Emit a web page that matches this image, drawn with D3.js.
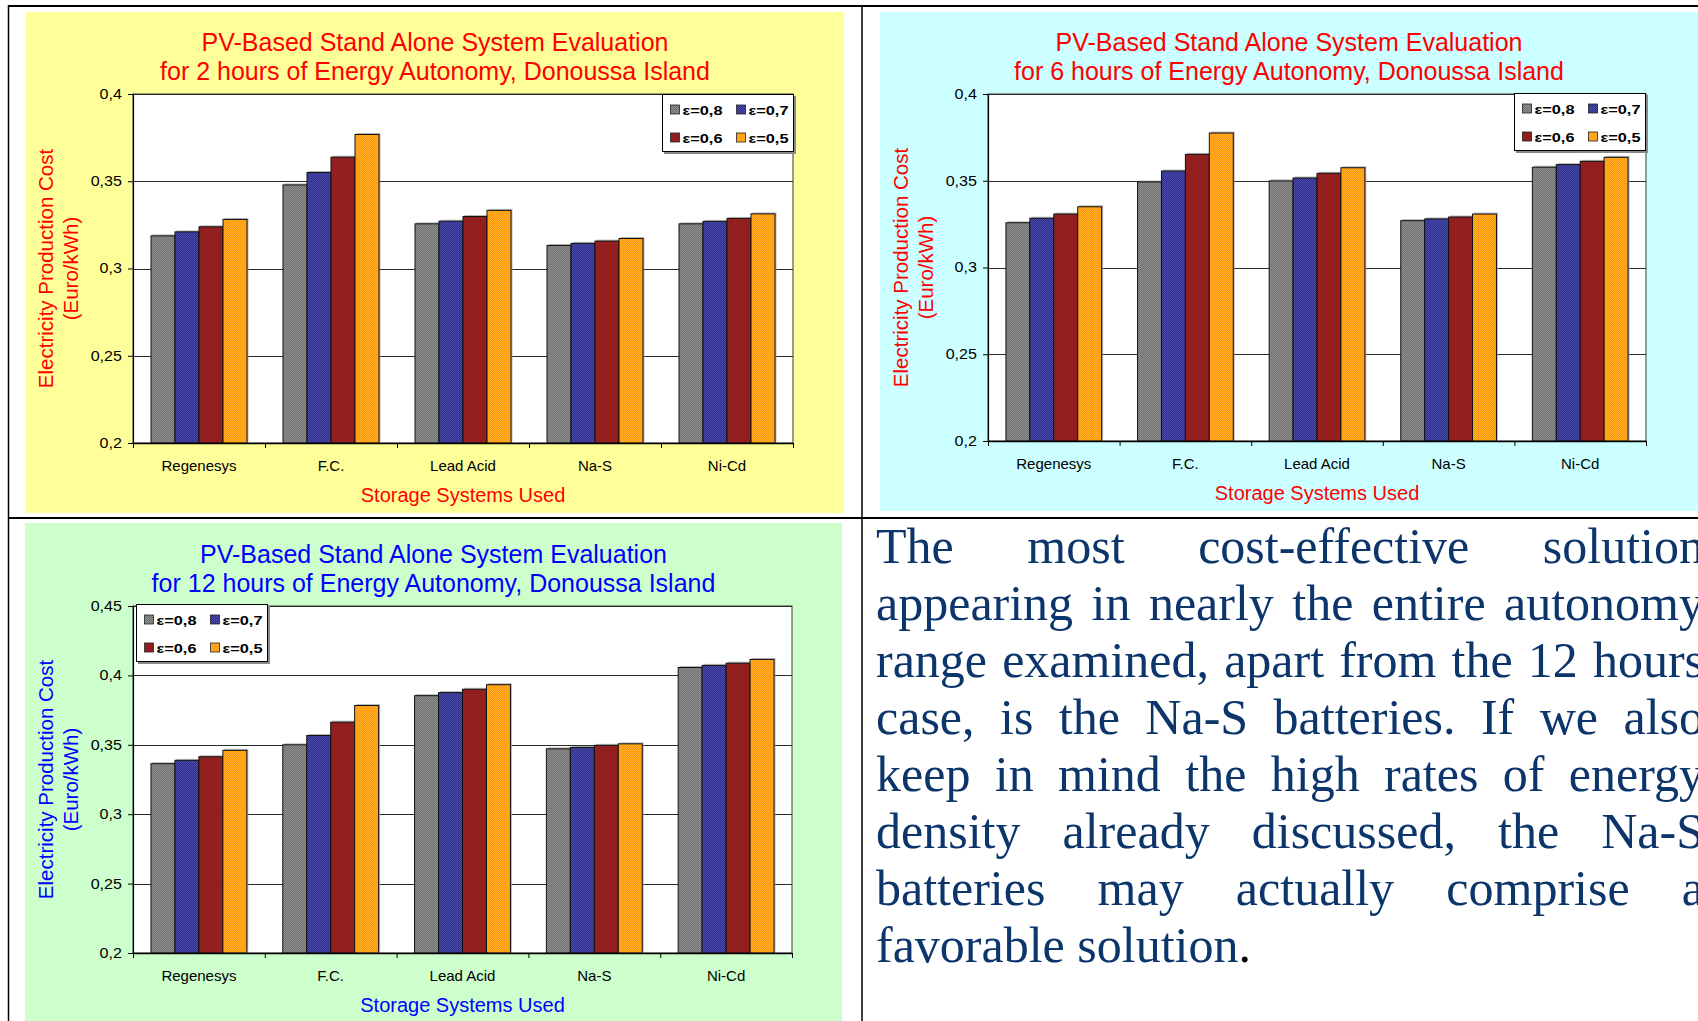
<!DOCTYPE html>
<html>
<head>
<meta charset="utf-8">
<script src="https://cdn.jsdelivr.net/npm/d3@7"></script>
<style>
  html, body { margin: 0; padding: 0; background: #ffffff; }
  svg { display: block; }
  text { font-family: "Liberation Sans", Arial, sans-serif; }
</style>
</head>
<body>
<svg id="page" width="1698" height="1021"></svg>
<script>
// ---- data -------------------------------------------------------------
const categories = ["Regenesys", "F.C.", "Lead Acid", "Na-S", "Ni-Cd"];
const seriesLabels = ["ε=0,8", "ε=0,7", "ε=0,6", "ε=0,5"];

// electricity production cost (Euro/kWh), 2 hours of autonomy
const cost2h_e08 = [0.3187, 0.3479, 0.3256, 0.3132, 0.3256];
const cost2h_e07 = [0.3210, 0.3550, 0.3271, 0.3144, 0.3270];
const cost2h_e06 = [0.3239, 0.3638, 0.3298, 0.3157, 0.3287];
const cost2h_e05 = [0.3281, 0.3768, 0.3333, 0.3172, 0.3313];

// 6 hours of autonomy
const cost6h_e08 = [0.3258, 0.3493, 0.3499, 0.3270, 0.3578];
const cost6h_e07 = [0.3284, 0.3556, 0.3516, 0.3280, 0.3593];
const cost6h_e06 = [0.3308, 0.3652, 0.3543, 0.3291, 0.3612];
const cost6h_e05 = [0.3350, 0.3775, 0.3575, 0.3308, 0.3635];

// 12 hours of autonomy
const cost12h_e08 = [0.3364, 0.3500, 0.3854, 0.3471, 0.4057];
const cost12h_e07 = [0.3388, 0.3567, 0.3876, 0.3481, 0.4072];
const cost12h_e06 = [0.3414, 0.3663, 0.3900, 0.3496, 0.4088];
const cost12h_e05 = [0.3460, 0.3783, 0.3933, 0.3507, 0.4115];

const yTicksLow = [0.2, 0.25, 0.3, 0.35, 0.4];
const yTicksHigh = [0.2, 0.25, 0.3, 0.35, 0.4, 0.45];

const titleLine1 = "PV-Based Stand Alone System Evaluation";
const title2h = "for 2 hours of Energy Autonomy, Donoussa Island";
const title6h = "for 6 hours of Energy Autonomy, Donoussa Island";
const title12h = "for 12 hours of Energy Autonomy, Donoussa Island";
const xTitle = "Storage Systems Used";
const yTitle = ["Electricity Production Cost", "(Euro/kWh)"];

const paragraph = [
  "The most cost-effective solution",
  "appearing in nearly the entire autonomy",
  "range examined, apart from the 12 hours",
  "case, is the Na-S batteries. If we also",
  "keep in mind the high rates of energy",
  "density already discussed, the Na-S",
  "batteries may actually comprise a",
  "favorable solution"
];

// ---- styling ------------------------------------------------------------
// two-tone fills give the bars their fine dotted texture
const seriesTones = [
  ["#727272", "#8e8e8e"],
  ["#2f2f8e", "#4a4aa8"],
  ["#861818", "#a02626"],
  ["#ff9900", "#ffae33"]
];

const fmt = d3.formatLocale({ decimal: ",", thousands: ".", grouping: [3], currency: ["", ""] }).format("~g");

const svg = d3.select("#page");
svg.append("rect").attr("width", 1698).attr("height", 1021).attr("fill", "#ffffff");

const defs = svg.append("defs");
seriesTones.forEach((tone, i) => {
  const p = defs.append("pattern")
    .attr("id", "fill" + i)
    .attr("patternUnits", "userSpaceOnUse")
    .attr("width", 2).attr("height", 2);
  p.append("rect").attr("width", 2).attr("height", 2).attr("fill", tone[0]);
  p.append("rect").attr("width", 1).attr("height", 1).attr("fill", tone[1]);
  p.append("rect").attr("x", 1).attr("y", 1).attr("width", 1).attr("height", 1).attr("fill", tone[1]);
});

// ---- one Excel-style clustered column chart ------------------------------
function drawChart(cfg) {
  const g = svg.append("g");
  const P = cfg.plot;

  // chart area
  g.append("rect")
    .attr("x", cfg.panel.x).attr("y", cfg.panel.y)
    .attr("width", cfg.panel.w).attr("height", cfg.panel.h)
    .attr("fill", cfg.panel.fill);

  const x0 = d3.scaleBand().domain(categories).range([P.l, P.r]).padding(0);
  const unit = x0.bandwidth() / 5.5;
  const x1 = d3.scaleBand().domain(d3.range(seriesLabels.length)).range([0.75 * unit, 4.75 * unit]).padding(0);
  const y = d3.scaleLinear().domain(cfg.domain).range([P.b, P.t]);

  // plot area
  g.append("rect")
    .attr("x", P.l).attr("y", P.t)
    .attr("width", P.r - P.l).attr("height", P.b - P.t)
    .attr("fill", "#ffffff")
    .attr("stroke", "#3a3a3a").attr("stroke-width", 1);

  // gridlines
  g.append("g").selectAll("line")
    .data(cfg.ticks.slice(1))
    .join("line")
    .attr("x1", P.l).attr("x2", P.r)
    .attr("y1", d => Math.round(y(d)) + 0.5).attr("y2", d => Math.round(y(d)) + 0.5)
    .attr("stroke", "#2a2a2a").attr("stroke-width", 1);

  // bars with a faint shadow
  cfg.series.forEach((vals, si) => {
    const sg = g.append("g");
    sg.selectAll("rect.shadow")
      .data(vals)
      .join("rect")
      .attr("class", "shadow")
      .attr("x", (d, i) => x0(categories[i]) + x1(si) + 1.5)
      .attr("y", d => y(d) - 1.5)
      .attr("width", x1.bandwidth())
      .attr("height", d => y(cfg.domain[0]) - y(d))
      .attr("fill", "#a0a0a0").attr("opacity", 0.75);
    sg.selectAll("rect.bar")
      .data(vals)
      .join("rect")
      .attr("class", "bar")
      .attr("x", (d, i) => x0(categories[i]) + x1(si))
      .attr("y", d => y(d))
      .attr("width", x1.bandwidth())
      .attr("height", d => y(cfg.domain[0]) - y(d))
      .attr("fill", "url(#fill" + si + ")")
      .attr("stroke", "#111").attr("stroke-width", 1);
  });

  // value axis
  const yAxis = d3.axisLeft(y).tickValues(cfg.ticks).tickSize(5).tickSizeOuter(0).tickFormat(fmt);
  const ya = g.append("g").attr("transform", `translate(${P.l},0)`).call(yAxis);
  ya.select(".domain").attr("stroke", "#000").attr("stroke-width", 1.2);
  ya.selectAll(".tick line").attr("stroke", "#000");
  ya.selectAll(".tick text")
    .attr("x", -9.6)
    .attr("transform", "scale(1.15,1)")
    .attr("fill", "#000")
    .style("font-size", "14px");

  // category axis: boundary ticks
  const xb = d3.scaleLinear().domain([0, categories.length]).range([P.l, P.r]);
  const xa = g.append("g").attr("transform", `translate(0,${P.b})`)
    .call(d3.axisBottom(xb).tickValues(d3.range(categories.length + 1)).tickSize(5).tickSizeOuter(0).tickFormat(""));
  xa.select(".domain").attr("stroke", "#000").attr("stroke-width", 1.6);
  xa.selectAll(".tick line").attr("stroke", "#000");

  // category labels
  const xl = g.append("g").attr("transform", `translate(0,${P.b})`)
    .call(d3.axisBottom(x0).tickSize(0));
  xl.select(".domain").remove();
  xl.selectAll(".tick text")
    .attr("y", 28).attr("dy", 0)
    .attr("fill", "#000")
    .style("font-size", "15px");

  // titles
  const cx = cfg.panel.x + cfg.panel.w / 2;
  g.append("text").attr("x", cx).attr("y", P.t - 43)
    .attr("text-anchor", "middle").attr("fill", cfg.color)
    .style("font-size", "25px").text(titleLine1);
  g.append("text").attr("x", cx).attr("y", P.t - 14)
    .attr("text-anchor", "middle").attr("fill", cfg.color)
    .style("font-size", "25px").text(cfg.subtitle);

  g.append("text").attr("x", (P.l + P.r) / 2).attr("y", P.b + 59)
    .attr("text-anchor", "middle").attr("fill", cfg.color)
    .style("font-size", "20px").text(xTitle);

  const yt = g.append("g").attr("transform", `translate(${P.l - 80},${(P.t + P.b) / 2}) rotate(-90)`);
  yTitle.forEach((t, i) => {
    yt.append("text").attr("x", 0).attr("y", i * 25)
      .attr("text-anchor", "middle").attr("fill", cfg.color)
      .style("font-size", "20.5px").text(t);
  });

  // legend
  const L = cfg.legend;
  const lg = g.append("g").attr("transform", `translate(${L.x},${L.y})`);
  lg.append("rect").attr("x", 2).attr("y", 2).attr("width", 132).attr("height", 58).attr("fill", "#8a8a8a");
  lg.append("rect").attr("x", 0.5).attr("y", 0.5).attr("width", 131).attr("height", 57)
    .attr("fill", "#ffffff").attr("stroke", "#000").attr("stroke-width", 1);
  seriesLabels.forEach((lab, si) => {
    const col = si % 2, row = Math.floor(si / 2);
    const base = row === 0 ? 20.5 : 48.5;
    lg.append("rect")
      .attr("x", 8.5 + col * 66).attr("y", base - 9.5)
      .attr("width", 9).attr("height", 9)
      .attr("fill", "url(#fill" + si + ")")
      .attr("stroke", "#222").attr("stroke-width", 0.8);
    lg.append("text")
      .attr("x", 20.5 + col * 66).attr("y", base)
      .attr("textLength", 40).attr("lengthAdjust", "spacingAndGlyphs")
      .attr("fill", "#000")
      .style("font-size", "13px").style("font-weight", "bold")
      .text(lab);
  });
}

drawChart({
  panel: { x: 26, y: 12, w: 818, h: 501, fill: "#ffff99" },
  plot: { l: 133, t: 94, r: 793, b: 443 },
  domain: [0.2, 0.4], ticks: yTicksLow,
  series: [cost2h_e08, cost2h_e07, cost2h_e06, cost2h_e05],
  subtitle: title2h, color: "#ff0000",
  legend: { x: 662, y: 94 }
});

drawChart({
  panel: { x: 880, y: 12, w: 818, h: 499, fill: "#ccffff" },
  plot: { l: 988, t: 94, r: 1646, b: 441 },
  domain: [0.2, 0.4], ticks: yTicksLow,
  series: [cost6h_e08, cost6h_e07, cost6h_e06, cost6h_e05],
  subtitle: title6h, color: "#ff0000",
  legend: { x: 1514, y: 93 }
});

drawChart({
  panel: { x: 25, y: 523, w: 817, h: 498, fill: "#ccffcc" },
  plot: { l: 133, t: 606, r: 792, b: 953 },
  domain: [0.2, 0.45], ticks: yTicksHigh,
  series: [cost12h_e08, cost12h_e07, cost12h_e06, cost12h_e05],
  subtitle: title12h, color: "#0000ff",
  legend: { x: 136, y: 604 }
});

// ---- justified paragraph in the lower right cell ---------------------------
const textLeft = 876, textWidth = 828, firstBase = 563, lineStep = 57;
paragraph.forEach((line, li) => {
  const t = svg.append("text")
    .attr("y", firstBase + li * lineStep)
    .attr("fill", "#0b356b")
    .style("font-family", "'Liberation Serif', 'Times New Roman', serif")
    .style("font-size", "50px");
  const words = line.split(" ");
  const spans = words.map(w => t.append("tspan").text(w));
  const last = li === paragraph.length - 1;
  if (last) t.append("tspan").attr("fill", "#000").text(".");
  const widths = spans.map(s => s.node().getComputedTextLength());
  const total = d3.sum(widths);
  const gap = last ? 12.5 : (textWidth - total) / (words.length - 1);
  let x = textLeft;
  spans.forEach((s, i) => { s.attr("x", x); x += widths[i] + gap; });
});

// ---- table rules -------------------------------------------------------------
const rules = svg.append("g").attr("stroke", "#000");
rules.append("line").attr("x1", 8).attr("x2", 1698).attr("y1", 6).attr("y2", 6).attr("stroke-width", 2);
rules.append("line").attr("x1", 8.5).attr("x2", 8.5).attr("y1", 5).attr("y2", 1021).attr("stroke-width", 1.5);
rules.append("line").attr("x1", 862).attr("x2", 862).attr("y1", 5).attr("y2", 1021).attr("stroke-width", 1.5);
rules.append("line").attr("x1", 8).attr("x2", 1698).attr("y1", 518).attr("y2", 518).attr("stroke-width", 2);
</script>
</body>
</html>
